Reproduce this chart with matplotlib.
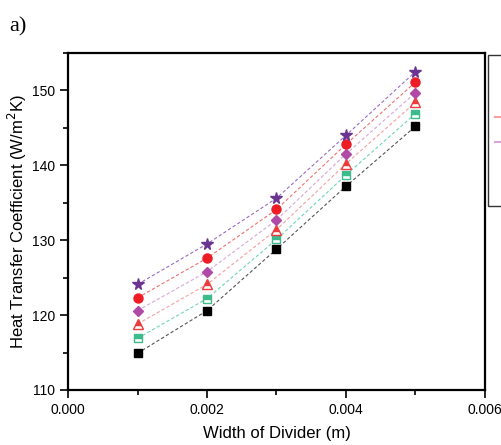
import numpy as np
import matplotlib.pyplot as plt
from matplotlib.ticker import MultipleLocator
from matplotlib.lines import Line2D

plt.rcParams['font.family'] = ['Liberation Sans', 'DejaVu Sans']

width = [0.001, 0.002, 0.003, 0.004, 0.005]
h_black = [114.9, 120.6, 128.8, 137.2, 145.2]
h_green = [116.9, 122.2, 130.1, 138.7, 146.9]
h_tri = [118.8, 124.1, 131.4, 140.2, 148.4]
h_diamond = [120.6, 125.8, 132.7, 141.5, 149.7]
h_circle = [122.3, 127.6, 134.1, 142.8, 151.1]
h_star = [124.1, 129.5, 135.6, 144.0, 152.5]

# values, marker, marker colour, line colour, fill style, marker size, legend line shown
series = [
    (h_black, 's', '#000000', '#555555', 'full', 5.5, False),
    (h_green, 's', '#3dbb8c', '#6fd4b4', 'top', 5.5, False),
    (h_tri, '^', '#ee3b3b', '#f4a0a0', 'top', 6.5, True),
    (h_diamond, 'D', '#b04aa6', '#d7a6d8', 'full', 5.5, True),
    (h_circle, 'o', '#ee1c24', '#f07070', 'full', 6.5, False),
    (h_star, '*', '#6a3591', '#9a6cc0', 'full', 8.5, False),
]

fig = plt.figure(figsize=(5.02, 4.45), dpi=100)
ax = fig.add_axes([0.1355, 0.1236, 0.8305, 0.7574])

handles = []
for vals, mk, mcol, lcol, fs, ms, shown in series:
    ax.plot(width, vals, linestyle=(0, (3, 2)), linewidth=0.8, color=lcol, zorder=2)
    ax.plot(width, vals, linestyle='none', marker=mk, markersize=ms,
            markerfacecolor=mcol, markeredgecolor=mcol, fillstyle=fs,
            markerfacecoloralt='white', markeredgewidth=1.0, zorder=3)
    handles.append(Line2D([0], [0], color=lcol, linewidth=1.5, alpha=1.0 if shown else 0.0))

ax.set_xlim(0, 0.006)
ax.set_ylim(110, 155)
ax.xaxis.set_major_locator(MultipleLocator(0.002))
ax.xaxis.set_minor_locator(MultipleLocator(0.001))
ax.yaxis.set_major_locator(MultipleLocator(10))
ax.yaxis.set_minor_locator(MultipleLocator(5))
ax.xaxis.set_major_formatter(plt.FormatStrFormatter('%.3f'))
ax.tick_params(which='major', direction='out', length=6, width=1.2, labelsize=10, top=False, right=False)
ax.tick_params(which='minor', direction='out', length=3.5, width=1.2, top=False, right=False)
for sp in ax.spines.values():
    sp.set_linewidth(1.6)

ax.set_xlabel('Width of Divider (m)', fontsize=12, labelpad=6)
ax.set_ylabel('Heat Transfer Coefficient (W/m$^2$K)', fontsize=12, labelpad=2)

leg = ax.legend(handles=handles, labels=[''] * len(handles), loc='upper left',
                bbox_to_anchor=(1.007, 0.995), frameon=True, fancybox=False,
                edgecolor='#000000', fontsize=10, handlelength=4,
                labelspacing=0.77, borderaxespad=0, borderpad=0.5)
leg.get_frame().set_linewidth(1.0)

fig.text(0.018, 0.93, 'a)', fontsize=16, family='Liberation Serif')

fig.savefig('out.png', dpi=100)
